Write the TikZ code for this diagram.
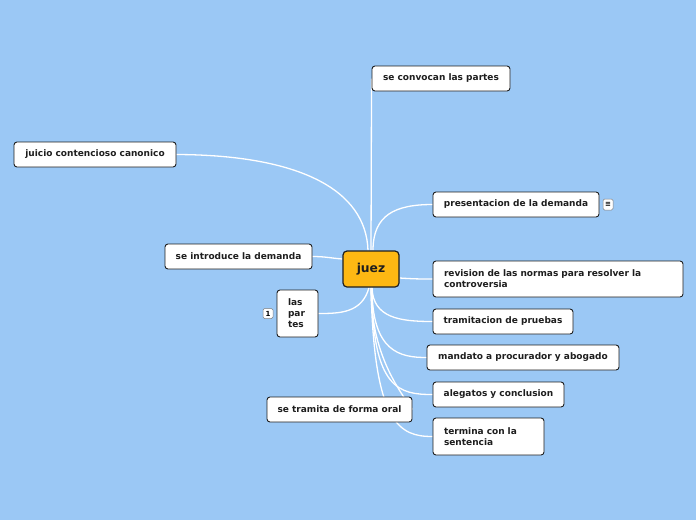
\documentclass[tikz,border=0pt]{standalone}
\usepackage{fontspec}
\setmainfont{DejaVu Sans}
\usetikzlibrary{backgrounds}
\definecolor{bgblue}{RGB}{155,200,245}
\definecolor{juezfill}{RGB}{253,184,19}
\definecolor{txt}{RGB}{30,30,30}
\tikzset{
  topic/.style={draw=txt, fill=white, rounded corners=3pt, line width=0.9pt,
    font=\bfseries\fontsize{9}{11}\selectfont, text=txt, inner xsep=6pt, inner ysep=0pt,
    minimum height=25pt, align=left},
  central/.style={draw=txt, fill=juezfill, rounded corners=4pt, line width=1.2pt,
    font=\bfseries\fontsize{12.3}{14}\selectfont, text=txt, minimum width=56pt, minimum height=36pt, inner sep=0pt},
  link/.style={draw=white, line width=1.3pt},
  badge/.style={draw=black!50, fill=white, rounded corners=1.5pt, line width=0.5pt, inner sep=0pt,
    minimum width=10pt, minimum height=11pt, font=\bfseries\fontsize{7}{8}\selectfont}
}
\begin{document}
\begin{tikzpicture}[x=1pt,y=-1pt]
\begin{pgfonlayer}{background}
\fill[bgblue] (0,0) rectangle (696,520);
\end{pgfonlayer}
\useasboundingbox (0,0) rectangle (696,520);

\node[central] (juez) at (371,269) {juez};
\node[topic, minimum width=138pt] (convocan) at (441,78.5) {se convocan las partes};
\node[topic, minimum width=162pt] (juicio) at (95,154.5) {juicio contencioso canonico};
\node[topic, minimum width=166pt] (presentacion) at (516,204.5) {presentacion de la demanda};
\node[topic, minimum width=147pt] (introduce) at (238.5,256.5) {se introduce la demanda};
\node[topic, minimum width=250pt, minimum height=36pt, text width=228pt] (revision) at (558,279) {revision de las normas para resolver la\\controversia};
\node[topic, minimum width=41pt, minimum height=47pt, text width=19pt] (partes) at (297.5,313.5) {las\\par\\tes};
\node[topic, minimum width=140pt] (tramitacion) at (503,321.5) {tramitacion de pruebas};
\node[topic, minimum width=192pt] (mandato) at (523,357.5) {mandato a procurador y abogado};
\node[topic, minimum width=131pt] (alegatos) at (498.5,394.5) {alegatos y conclusion};
\node[topic, minimum width=145pt] (tramita) at (339.5,409.5) {se tramita de forma oral};
\node[topic, minimum width=111pt, minimum height=37pt, text width=89pt] (termina) at (488.5,436.5) {termina con la\\sentencia};

\node[badge] (nota) at (608,204.5) {≡};
\node[badge, minimum height=10pt] (uno) at (268,313.5) {1};

\begin{pgfonlayer}{background}
\draw[link] (juez.north) -- (convocan.west);
\draw[link] ([xshift=-3pt]juez.north) .. controls (366,190) and (300,155) .. (juicio.east);
\draw[link] ([xshift=2pt]juez.north) .. controls (373,215) and (395,204.5) .. (presentacion.west);
\draw[link] ([yshift=10pt]juez.west) .. controls (330,258) and (325,256.5) .. (introduce.east);
\draw[link] ([yshift=-9pt]juez.east) .. controls (415,279) and (420,279) .. (revision.west);
\draw[link] ([xshift=-2pt]juez.south) .. controls (362,313) and (340,313.5) .. (partes.east);
\draw[link] ([xshift=1pt]juez.south) .. controls (373,318) and (400,321.5) .. (tramitacion.west);
\draw[link] ([xshift=1pt]juez.south) .. controls (372,352) and (400,357.5) .. (mandato.west);
\draw[link] ([xshift=1pt]juez.south) .. controls (372,390) and (400,394.5) .. (alegatos.west);
\draw[link] (juez.south) .. controls (371,350) and (395,385) .. (tramita.east);
\draw[link] (juez.south) .. controls (374,425) and (400,436.5) .. (termina.west);
\end{pgfonlayer}
\end{tikzpicture}
\end{document}
